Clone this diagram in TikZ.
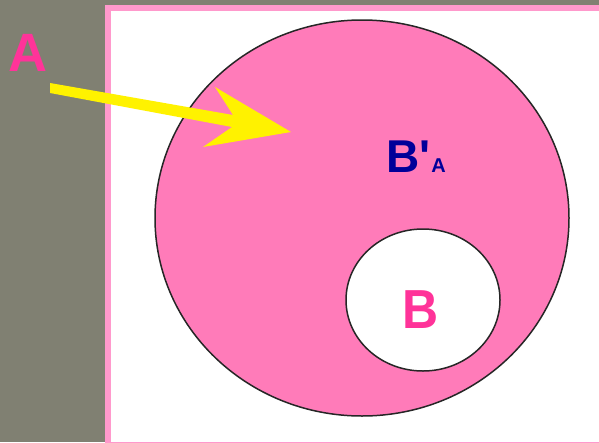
\documentclass[tikz,border=0pt]{standalone}
\usetikzlibrary{shapes.geometric}
\usepackage{fontspec}
\setmainfont{Liberation Sans}
\newfontfamily\plainsans{Liberation Sans}
\definecolor{bggray}{RGB}{128,128,114}
\definecolor{framepink}{RGB}{255,153,204}
\definecolor{fillpink}{RGB}{255,123,185}
\definecolor{textpink}{RGB}{255,51,153}
\definecolor{darkblue}{RGB}{0,0,153}
\tikzset{
  lbl/.style={inner sep=0pt, font=\bfseries},
  ring/.style={draw=black!85, line width=1.5pt, ellipse, inner sep=0pt}
}
\begin{document}
\begin{tikzpicture}[x=1pt,y=-1pt]
\useasboundingbox (0,0) rectangle (599,442);
\fill[bggray] (0,0) rectangle (599,442);
\filldraw[fill=white, draw=framepink, line width=6pt] (108,8) rectangle (610,445);
% big set A
\node[ring, fill=fillpink, minimum width=414pt, minimum height=396pt] (bigA) at (362,218) {};
% small set B
\node[ring, fill=white, minimum width=154pt, minimum height=142pt] (smallB) at (423,300) {};
% labels
\node[lbl, text=textpink, anchor=base, font=\bfseries\fontsize{54}{54}\selectfont] (labA) at (28,71) {A};
\node[lbl, text=darkblue, anchor=base west, font=\plainsans\bfseries\fontsize{46}{46}\selectfont] (labBp) at (386,172) {B'\kern1pt\fontsize{20}{20}\selectfont A};
\node[lbl, text=textpink, anchor=base, font=\bfseries\fontsize{50}{50}\selectfont, yscale=1.1] (labB) at (421,328) {B};
% arrow
\coordinate (arS1) at (50,83);
\coordinate (arS2) at (50,93);
\coordinate (arN1) at (233,115);
\coordinate (arN2) at (232,127);
\coordinate (arT) at (215,87);
\coordinate (arB) at (203,147);
\coordinate (arTip) at (291,132);
\fill[yellow] (arS1) -- (arN1) -- (arT) -- (arTip) -- (arB) -- (arN2) -- (arS2) -- cycle;
\end{tikzpicture}
\end{document}
